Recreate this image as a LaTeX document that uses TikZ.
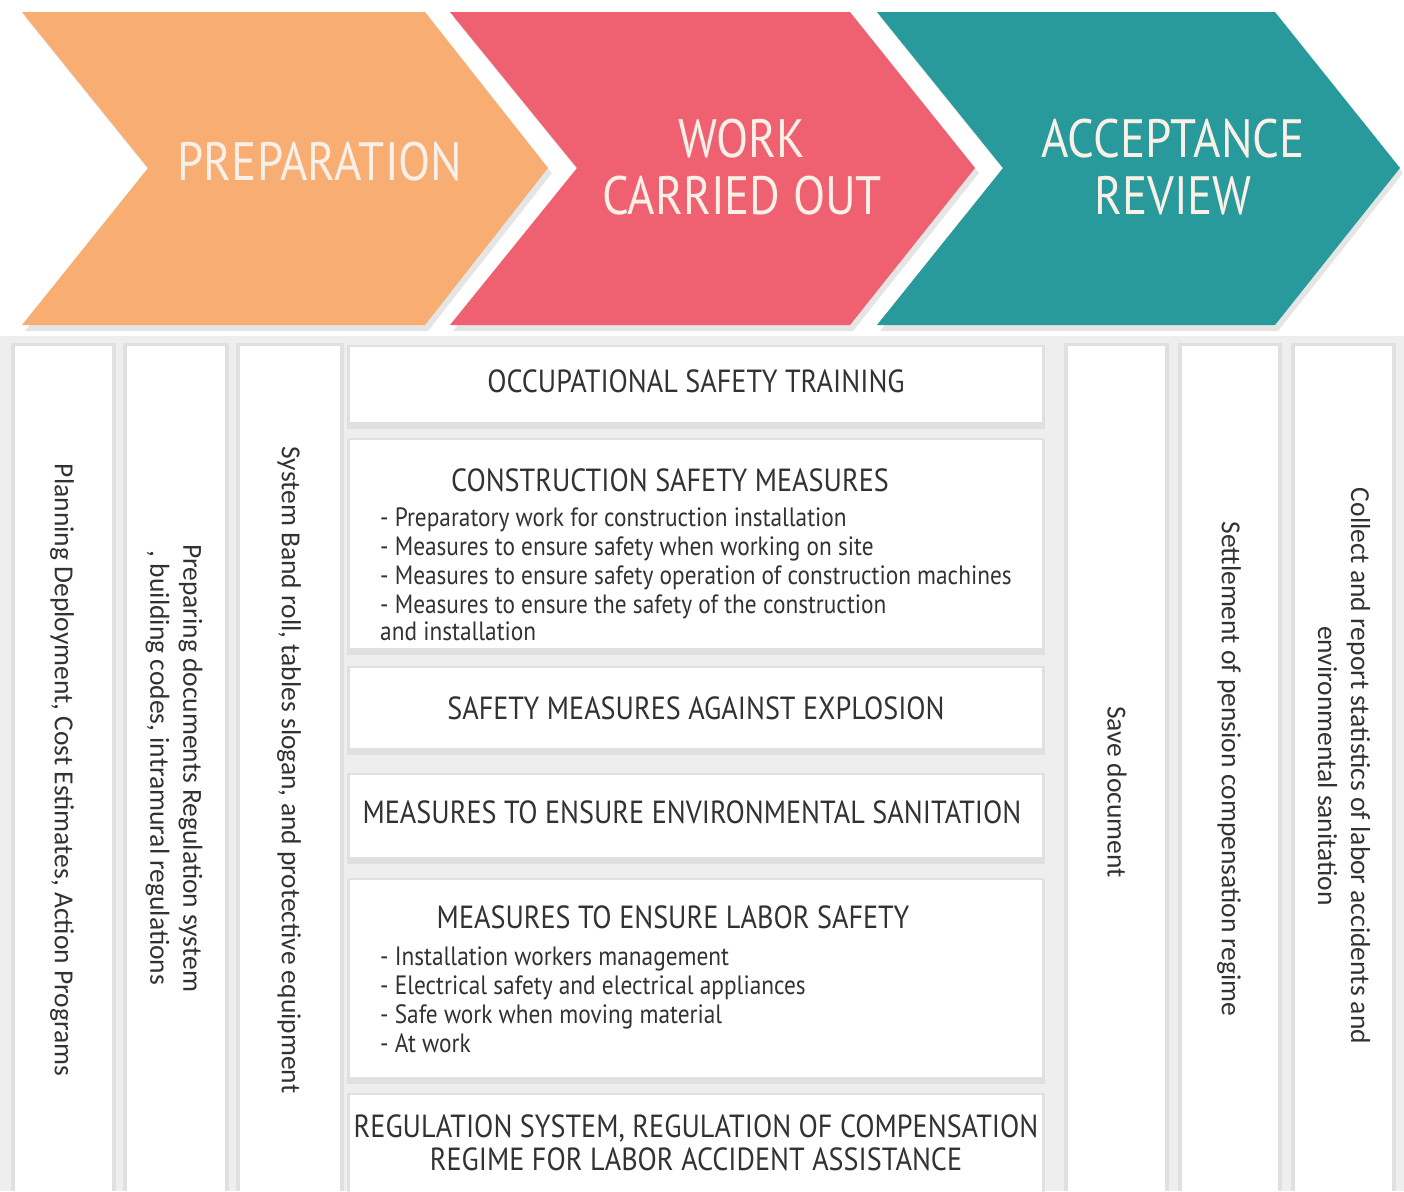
\documentclass[tikz,border=0pt]{standalone}
\usepackage{fontspec}
\setmainfont{PT Sans}
\newfontfamily\headfont[FakeStretch=0.87]{PT Sans}
\newfontfamily\condfont[FakeStretch=0.88]{PT Sans}
\newfontfamily\rotfont{Carlito}
\definecolor{prepC}{RGB}{248,174,115}
\definecolor{workC}{RGB}{239,97,112}
\definecolor{accC}{RGB}{40,154,156}
\definecolor{headTxt}{RGB}{250,240,232}
\definecolor{bodyTxt}{RGB}{50,50,50}
\definecolor{backC}{RGB}{238,238,238}
\tikzset{
  chevshadow/.style={fill=black, opacity=0.10},
  headlbl/.style={text=headTxt, font=\headfont\fontsize{54}{57}\selectfont, align=center},
  colbox/.style={fill=white},
  midbox/.style={fill=white},
  boxshadow/.style={fill=black, opacity=0.06},
  titlelbl/.style={text=bodyTxt, font=\condfont\fontsize{32}{33}\selectfont, align=center},
  bulletlbl/.style={text=bodyTxt, font=\condfont\fontsize{26.5}{29}\selectfont, align=left, anchor=north west, inner sep=0pt},
  rotlbl/.style={text=bodyTxt, font=\rotfont\fontsize{27.5}{33}\selectfont, align=center, rotate=-90}
}
\begin{document}
\begin{tikzpicture}[x=1pt,y=-1pt]
\useasboundingbox (0,0) rectangle (1404,1191);
\fill[white] (0,0) rectangle (1404,1191);
% backdrop of the lower area
\fill[backC] (0,336) rectangle (1404,1191);

% chevron shadows
\fill[chevshadow] (25,17) -- (428,17) -- (552,173) -- (428,331) -- (25,331) -- (151,173) -- cycle;
\fill[chevshadow] (453,17) -- (853,17) -- (979,173) -- (853,331) -- (453,331) -- (580,173) -- cycle;
\fill[chevshadow] (880,17) -- (1278,17) -- (1403,173) -- (1278,331) -- (880,331) -- (1006,173) -- cycle;
% chevrons
\fill[prepC] (22,12) -- (425,12) -- (548,168) -- (425,325) -- (22,325) -- (148,168) -- cycle;
\fill[workC] (450,12) -- (850,12) -- (975,168) -- (850,325) -- (450,325) -- (577,168) -- cycle;
\fill[accC] (877,12) -- (1275,12) -- (1400,168) -- (1275,325) -- (877,325) -- (1003,168) -- cycle;
\node[headlbl] (prep) at (320,162) {PREPARATION};
\node[headlbl] (work) at (742,167) {WORK\\CARRIED OUT};
\node[headlbl] (acc) at (1173,167) {ACCEPTANCE\\REVIEW};

% side columns
\foreach \a/\b in {15/112,127/225,240/340,1068/1165,1182/1278,1295/1392}{
  \fill[boxshadow] (\a-4,343) rectangle (\b+4,1191);
  \fill[colbox] (\a,346) rectangle (\b,1191);
}
% middle boxes
\foreach \t/\u in {347/422,440/648,668/748,775/857,880/1077,1095/1200}{
  \fill[boxshadow] (347,\t-2) rectangle (1045,\u+7);
  \fill[midbox] (350,\t) rectangle (1042,\u);
}

% column texts
\node[rotlbl] (c1) at (62,770) {Planning Deployment, Cost Estimates, Action Programs};
\node[rotlbl] (c2) at (174,768) {Preparing documents Regulation system\\, building codes, intramural regulations};
\node[rotlbl] (c3) at (289,770) {System Band roll, tables slogan, and protective equipment};
\node[rotlbl] (c4) at (1117,792) {Save document};
\node[rotlbl] (c5) at (1229,769) {Settlement of pension compensation regime};
\node[rotlbl] (c6) at (1344,766) {Collect and report statistics of labor accidents and\\environmental sanitation};

% middle texts
\node[titlelbl] (m1) at (696,381) {OCCUPATIONAL SAFETY TRAINING};
\node[titlelbl] (m2) at (670,480) {CONSTRUCTION SAFETY MEASURES};
\node[bulletlbl] (m2b) at (380,508) {- Preparatory work for construction installation\\
- Measures to ensure safety when working on site\\
- Measures to ensure safety operation of construction machines\\
- Measures to ensure the safety of the construction\\[-2pt]
and installation};
\node[titlelbl] (m3) at (696,708) {SAFETY MEASURES AGAINST EXPLOSION};
\node[titlelbl] (m4) at (692,812) {MEASURES TO ENSURE ENVIRONMENTAL SANITATION};
\node[titlelbl] (m5) at (673,917) {MEASURES TO ENSURE LABOR SAFETY};
\node[bulletlbl] (m5b) at (380,947) {- Installation workers management\\
- Electrical safety and electrical appliances\\
- Safe work when moving material\\
- At work};
\node[titlelbl] (m6) at (696,1143) {REGULATION SYSTEM, REGULATION OF COMPENSATION\\REGIME FOR LABOR ACCIDENT ASSISTANCE};
\end{tikzpicture}
\end{document}
